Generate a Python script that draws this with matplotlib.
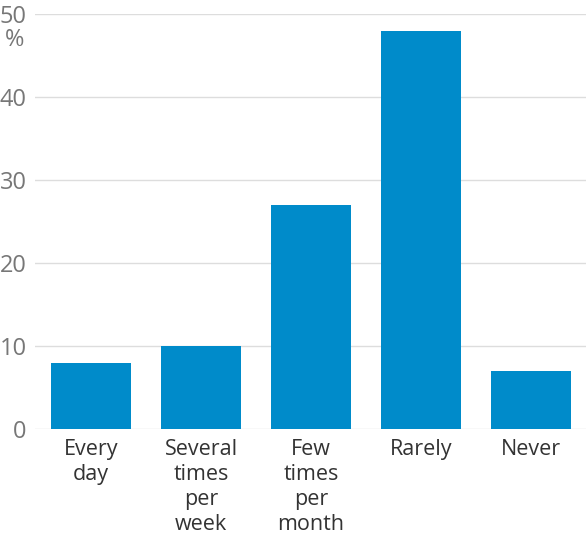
import matplotlib.pyplot as plt
import numpy as np

plt.rcParams['font.family'] = ['Open Sans', 'DejaVu Sans']

# Data
categories = ["Every\nday", "Several\ntimes\nper\nweek", "Few\ntimes\nper\nmonth", "Rarely", "Never"]
values = [8, 10, 27, 48, 7]
yticks = [0, 10, 20, 30, 40, 50]

fig = plt.figure(figsize=(5.86, 5.36), dpi=100)
ax = fig.add_axes([35/586, 107/536, 551/586, 415/536])

x = np.arange(len(categories))
ax.bar(x, values, width=0.727, color='#008BCA', zorder=3)

ax.set_xlim(-0.51, 4.5)
ax.set_ylim(0, 50)
ax.set_yticks(yticks)
ax.yaxis.grid(True, color='#dddddd', linewidth=1, zorder=0)
ax.set_axisbelow(True)
for s in ax.spines.values():
    s.set_visible(False)
ax.tick_params(axis='y', length=0, pad=6, labelsize=17, labelcolor='#777777')
ax.tick_params(axis='x', length=0, pad=7)
ax.set_xticks(x)
ax.set_xticklabels(categories, fontsize=15.5, color='#333333', linespacing=1.25, va='top')

fig.text(15/586, 1 - 40/536, "%", fontsize=17, color='#777777', ha='center', va='center')

fig.savefig("out.png", dpi=100)
